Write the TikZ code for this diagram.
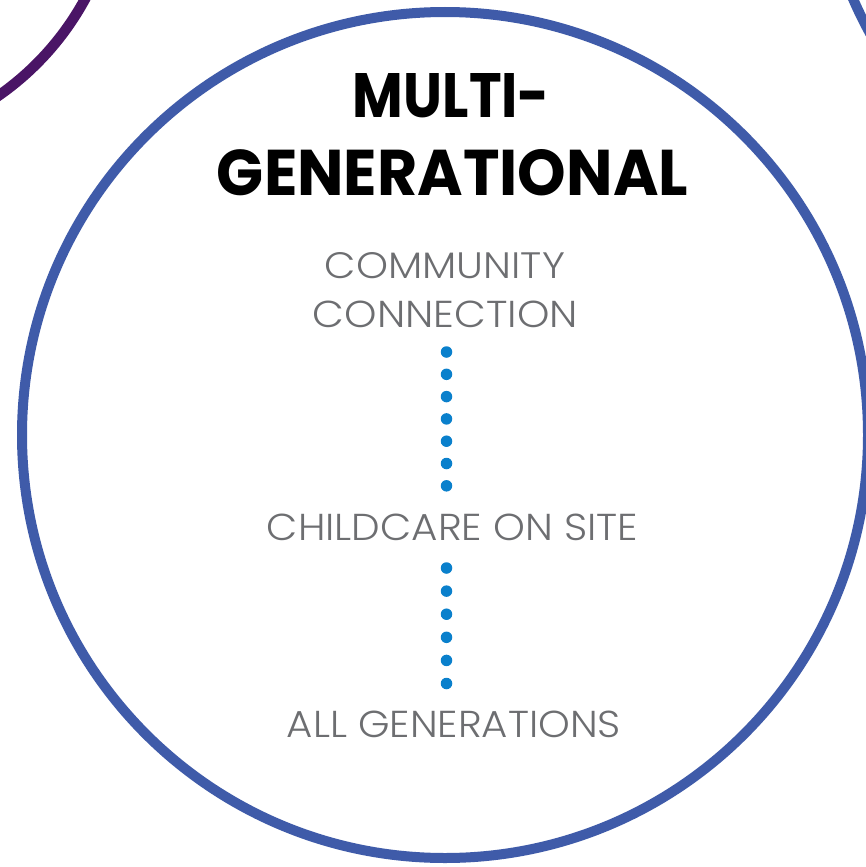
\documentclass[tikz,border=0pt]{standalone}
\usepackage{fontspec}
\newfontfamily\titlefont{Poppins}
\newfontfamily\lightfont{Poppins Light}
\definecolor{ringblue}{HTML}{3F5BA9}
\definecolor{ringpurple}{HTML}{4A1566}
\definecolor{dotblue}{HTML}{0A80CC}
\definecolor{labelgray}{HTML}{6D6E71}
\begin{document}
\begin{tikzpicture}[x=1pt,y=-1pt,
  ring/.style={line width=10pt},
  titletext/.style={inner sep=0pt, anchor=base, font=\titlefont\bfseries},
  labeltext/.style={inner sep=0pt, anchor=base, text=labelgray, font=\lightfont},
  dotline/.style={draw=dotblue, line width=11.5pt, line cap=round}]
\useasboundingbox (0,0) rectangle (866,867);
\clip (0,0) rectangle (866,867);
\fill[white] (0,0) rectangle (866,867);
% neighbouring rings (cut by the frame)
\draw[ring, ringpurple, line width=10.5pt] (-162,-135) circle[radius=281pt];
\draw[ring, ringblue] (1241,-170) circle[radius=423pt];
% main ring
\draw[ring, ringblue] (445,435) circle[radius=423pt];
% title
\node[titletext] (t1) at (451.5,117) {\resizebox{197pt}{44pt}{MULTI-}};
\node[titletext] (t2) at (452.5,195) {\resizebox{471pt}{46pt}{GENERATIONAL}};
% labels
\node[labeltext] (c1) at (445,278) {\resizebox{240pt}{26pt}{COMMUNITY}};
\node[labeltext] (c2) at (445.5,327) {\resizebox{265pt}{26.5pt}{CONNECTION}};
\node[labeltext] (c3) at (452.5,540) {\resizebox{371pt}{26.5pt}{CHILDCARE ON SITE}};
\node[labeltext] (c4) at (454,737) {\resizebox{334pt}{26.5pt}{ALL GENERATIONS}};
% dotted connectors
\coordinate (d1a) at (446.5,352);
\coordinate (d1b) at (446.5,486.5);
\coordinate (d2a) at (446.5,568);
\coordinate (d2b) at (446.5,684.5);
\draw[dotline, dash pattern=on 0pt off 22.3pt] (d1a) -- (d1b);
\draw[dotline, dash pattern=on 0pt off 23.1pt] (d2a) -- (d2b);
\end{tikzpicture}
\end{document}
